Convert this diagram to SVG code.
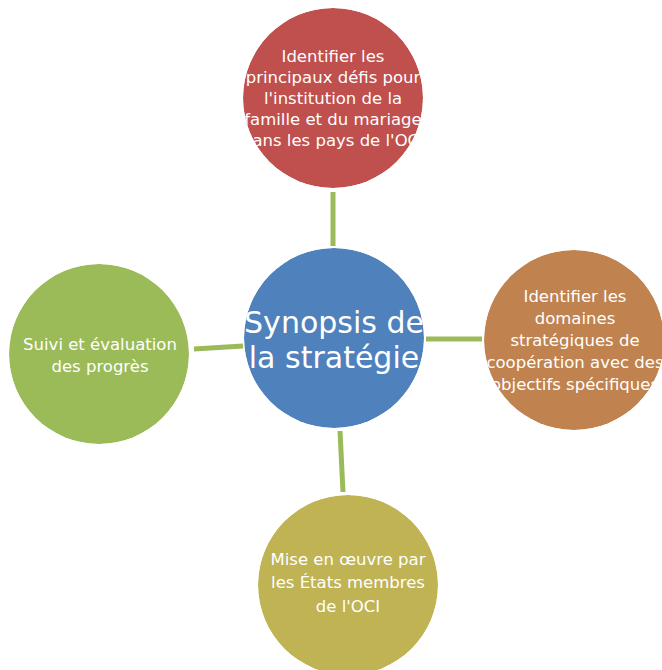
<svg xmlns="http://www.w3.org/2000/svg" width="662" height="670" viewBox="0 0 662 670">
<defs>
<clipPath id="cTop"><circle cx="333" cy="98" r="90"/></clipPath>
<clipPath id="cCenter"><circle cx="334" cy="338" r="90"/></clipPath>
<clipPath id="cRight"><circle cx="574" cy="340" r="90"/></clipPath>
<clipPath id="cLeft"><circle cx="99" cy="354" r="90"/></clipPath>
<clipPath id="cBottom"><circle cx="348" cy="585" r="90"/></clipPath>
</defs>
<style>
.t{font-family:"DejaVu Sans","Noto Sans",sans-serif;fill:#fff;text-anchor:middle;font-size:16.5px}
.big{font-size:30px}
.conn{stroke:#9BBB59;stroke-width:5;fill:none}
</style>
<rect width="662" height="670" fill="#fff"/>
<g id="connectors">
<line class="conn" x1="333" y1="192" x2="333" y2="246"/>
<line class="conn" x1="426" y1="339" x2="482" y2="339"/>
<line class="conn" x1="340" y1="431" x2="343" y2="492"/>
<line class="conn" x1="194" y1="349" x2="243" y2="346"/>
</g>
<g id="node-top" clip-path="url(#cTop)">
<circle cx="333" cy="98" r="90" fill="#C0504D"/>
<text class="t" x="333" y="62">Identifier les</text>
<text class="t" x="333" y="83">principaux défis pour</text>
<text class="t" x="333" y="104">l'institution de la</text>
<text class="t" x="333" y="125">famille et du mariage</text>
<text class="t" x="333" y="146">dans les pays de l'OCI</text>
</g>
<g id="node-center" clip-path="url(#cCenter)">
<circle cx="334" cy="338" r="90" fill="#4F81BD"/>
<text class="t big" x="334" y="333">Synopsis de</text>
<text class="t big" x="334" y="368">la stratégie</text>
</g>
<g id="node-right" clip-path="url(#cRight)">
<circle cx="574" cy="340" r="90" fill="#C0834F"/>
<text class="t" x="575" y="302">Identifier les</text>
<text class="t" x="575" y="324">domaines</text>
<text class="t" x="575" y="346">stratégiques de</text>
<text class="t" x="575" y="368">coopération avec des</text>
<text class="t" x="575" y="390">objectifs spécifiques</text>
</g>
<g id="node-left" clip-path="url(#cLeft)">
<circle cx="99" cy="354" r="90" fill="#9BBB59"/>
<text class="t" x="100" y="350">Suivi et évaluation</text>
<text class="t" x="100" y="372">des progrès</text>
</g>
<g id="node-bottom" clip-path="url(#cBottom)">
<circle cx="348" cy="585" r="90" fill="#C0B353"/>
<text class="t" x="348" y="565">Mise en œuvre par</text>
<text class="t" x="348" y="588">les États membres</text>
<text class="t" x="348" y="612">de l'OCI</text>
</g>
</svg>
